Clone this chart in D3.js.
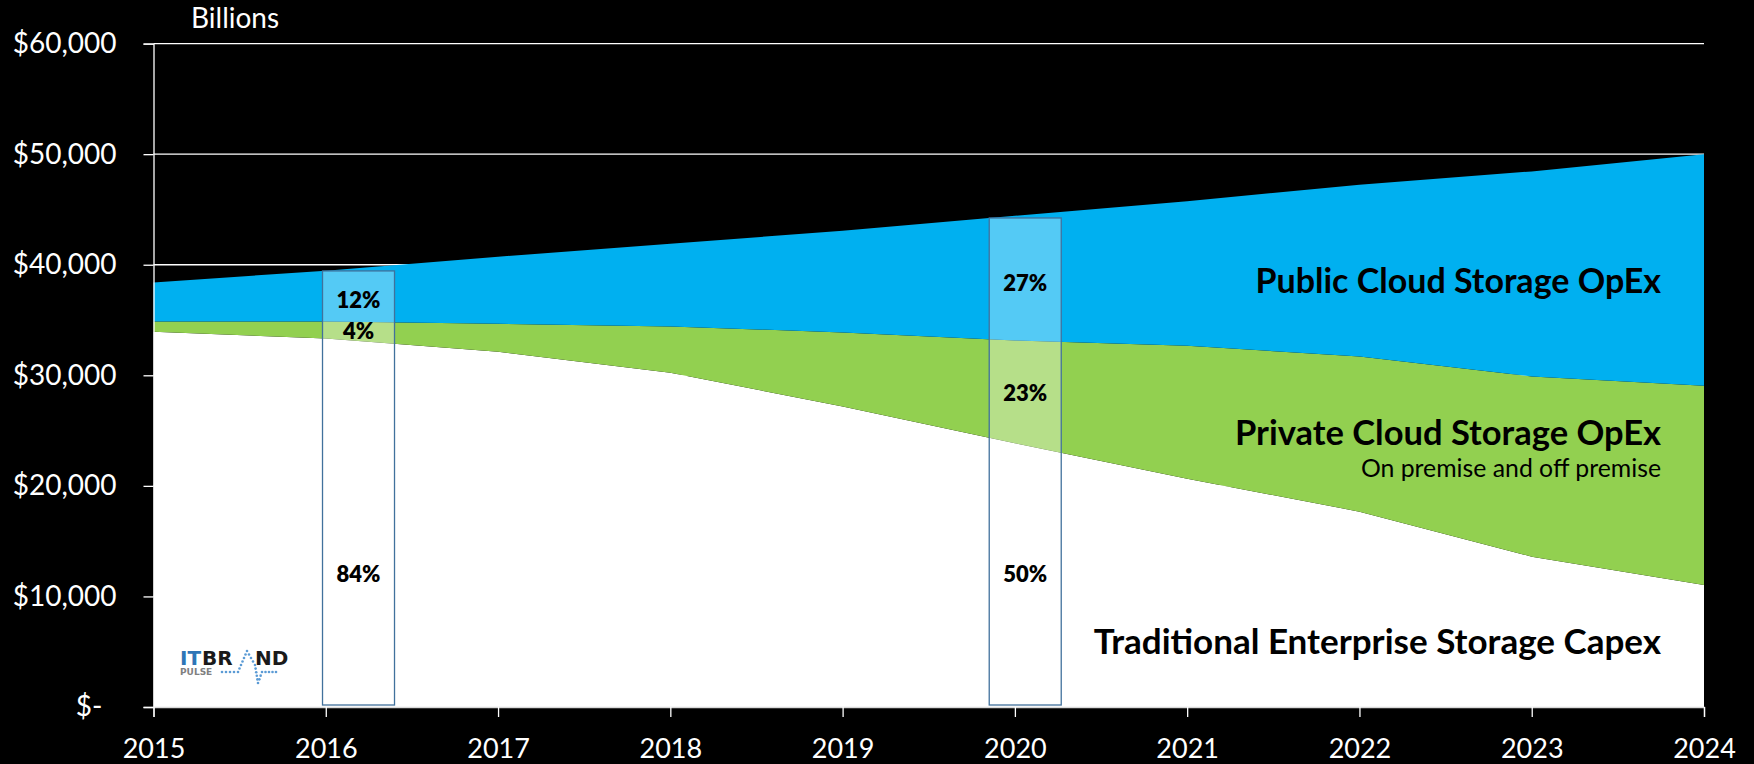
<!DOCTYPE html>
<html>
<head>
<meta charset="utf-8">
<script src="https://cdn.jsdelivr.net/npm/d3@7"></script>
<style>
  html, body { margin: 0; padding: 0; background: #000; }
  svg { display: block; }
</style>
</head>
<body>
<svg id="chart" width="1754" height="764"></svg>
<script>
// Storage spending, billions of dollars, by year
const years = [2015, 2016, 2017, 2018, 2019, 2020, 2021, 2022, 2023, 2024];
const traditionalCapex = [33940, 33330, 32130, 30230, 27180, 23860, 20650, 17670, 13600, 11040];
const privateCloudOpex = [930, 1540, 2530, 4190, 6700, 9290, 12030, 14030, 16290, 18010];
const publicCloudOpex  = [3530, 4590, 6060, 7480, 9200, 11280, 13070, 15540, 18550, 20950];

const seriesKeys   = ["traditional", "private", "public"];
const seriesColors = ["#FFFFFF", "#92D050", "#00B0F0"];

const yTickValues = [0, 10000, 20000, 30000, 40000, 50000, 60000];
const xTickValues = years;

// Share call-outs: year the column sits on, and the share of each layer (bottom to top)
const calloutYears  = [2016.19, 2020.06];
const calloutShares = [["84%", "4%", "12%"], ["50%", "23%", "27%"]];

const svg = d3.select("#chart");
const W = 1754, H = 764;
const margin = { left: 153.5, right: 50, top: 43.6, bottom: 57 };
const font = "Lato, 'Open Sans', sans-serif";

const x = d3.scaleLinear().domain([2015, 2024]).range([margin.left, W - margin.right]);
const y = d3.scaleLinear().domain([0, 60000]).range([H - margin.bottom, margin.top]);

const table = years.map((yr, i) => ({
  year: yr,
  traditional: traditionalCapex[i],
  private: privateCloudOpex[i],
  public: publicCloudOpex[i]
}));
const stacked = d3.stack().keys(seriesKeys)(table);

// background
svg.append("rect").attr("width", W).attr("height", H).attr("fill", "#000");

// horizontal gridlines (behind the areas)
svg.append("g")
  .selectAll("line")
  .data(yTickValues.filter(v => v > 0))
  .join("line")
  .attr("x1", x(2015)).attr("x2", x(2024))
  .attr("y1", d => y(d)).attr("y2", d => y(d))
  .attr("stroke", "#FFFFFF").attr("stroke-width", 1.3);

// stacked areas
const area = d3.area()
  .x(d => x(d.data.year))
  .y0(d => y(d[0]))
  .y1(d => y(d[1]))
  .curve(d3.curveLinear);

svg.append("g")
  .selectAll("path")
  .data(stacked)
  .join("path")
  .attr("d", area)
  .attr("fill", (d, i) => seriesColors[i]);

// linear interpolation of a stack boundary at a fractional year
function boundaryAt(layer, yr, which) {
  const i = Math.min(Math.floor(yr - years[0]), years.length - 2);
  const t = yr - years[i];
  return layer[i][which] * (1 - t) + layer[i + 1][which] * t;
}

// share call-out columns
const halfW = 36;
const callouts = svg.append("g");
calloutYears.forEach((yr, k) => {
  const cx = x(yr);
  const topLayer = stacked[stacked.length - 1];
  const topVal = boundaryAt(topLayer, x.invert(cx - halfW), 1);
  callouts.append("rect")
    .attr("x", cx - halfW)
    .attr("y", y(topVal))
    .attr("width", halfW * 2)
    .attr("height", y(0) - 2 - y(topVal))
    .attr("fill", "#FFFFFF").attr("fill-opacity", 0.33)
    .attr("stroke", "#41719C").attr("stroke-width", 1.3);

  stacked.forEach((layer, li) => {
    let ly;
    if (li === 0) {
      ly = y(12000);
    } else {
      const lo = boundaryAt(layer, yr, 0);
      const hi = boundaryAt(layer, yr, 1);
      ly = (y(lo) + y(hi)) / 2 + (li === stacked.length - 1 ? 5 : 0);
    }
    callouts.append("text")
      .attr("x", cx).attr("y", ly)
      .attr("dy", "0.36em")
      .attr("text-anchor", "middle")
      .attr("font-family", font)
      .attr("font-weight", 800)
      .attr("font-size", 22)
      .attr("fill", "#000")
      .text(calloutShares[k][li]);
  });
});

// y axis
const yAxis = d3.axisLeft(y)
  .tickValues(yTickValues)
  .tickSize(10)
  .tickPadding(27)
  .tickFormat(v => v === 0 ? "$-" : "$" + d3.format(",")(v));
const gy = svg.append("g").attr("transform", `translate(${margin.left},0)`).call(yAxis);
gy.select(".domain").attr("stroke", "#FFFFFF").attr("stroke-width", 1.3);
gy.selectAll(".tick line").attr("stroke", "#FFFFFF").attr("stroke-width", 1.3);
gy.selectAll(".tick text")
  .attr("fill", "#FFFFFF")
  .attr("font-family", font)
  .attr("font-size", 28)
  .attr("dx", d => d === 0 ? -14 : 0);

// x axis
const xAxis = d3.axisBottom(x)
  .tickValues(xTickValues)
  .tickSize(10)
  .tickPadding(22)
  .tickFormat(d3.format("d"));
const gx = svg.append("g").attr("transform", `translate(0,${y(0)})`).call(xAxis);
gx.select(".domain").attr("stroke", "#D9D9D9").attr("stroke-width", 1.3);
gx.selectAll(".tick line").attr("stroke", "#FFFFFF").attr("stroke-width", 1.3);
gx.selectAll(".tick text")
  .attr("fill", "#FFFFFF")
  .attr("font-family", font)
  .attr("font-size", 27);

// unit label
svg.append("text")
  .attr("x", 191).attr("y", 28)
  .attr("fill", "#FFFFFF")
  .attr("font-family", font)
  .attr("font-size", 28)
  .text("Billions");

// series labels
const labelX = 1661;
const seriesLabels = [
  { text: "Public Cloud Storage OpEx", y: 293, size: 34, weight: 700 },
  { text: "Private Cloud Storage OpEx", y: 445, size: 34.5, weight: 700 },
  { text: "On premise and off premise", y: 476.5, size: 24.8, weight: 400 },
  { text: "Traditional Enterprise Storage Capex", y: 654, size: 35, weight: 700 }
];
svg.append("g")
  .selectAll("text")
  .data(seriesLabels)
  .join("text")
  .attr("x", labelX)
  .attr("y", d => d.y)
  .attr("text-anchor", "end")
  .attr("font-family", font)
  .attr("font-weight", d => d.weight)
  .attr("font-size", d => d.size)
  .attr("fill", "#000")
  .text(d => d.text);

// ITBRAND PULSE logo
const logo = svg.append("g").attr("transform", "translate(180,665)");
const logoFont = "'DejaVu Sans', Verdana, sans-serif";
const word = logo.append("text").attr("x", 0).attr("y", 0)
  .attr("font-family", logoFont).attr("font-weight", 700).attr("font-size", 20);
word.append("tspan").attr("fill", "#2E75B6").text("IT");
word.append("tspan").attr("fill", "#1A1A1A").attr("dx", 1).text("BR");
logo.append("text").attr("x", 75).attr("y", 0)
  .attr("font-family", logoFont).attr("font-weight", 700).attr("font-size", 20)
  .attr("fill", "#1A1A1A").text("ND");
logo.append("text").attr("x", 0).attr("y", 10)
  .attr("font-family", logoFont).attr("font-weight", 700).attr("font-size", 9)
  .attr("fill", "#808080").text("PULSE");
const dotPath = [[42, 7], [58, 7], [67, -14], [75, 0], [78, 18], [82, 7], [96, 7]];
const dots = [];
for (let s = 0; s < dotPath.length - 1; s++) {
  const [x0, y0] = dotPath[s], [x1, y1] = dotPath[s + 1];
  const len = Math.hypot(x1 - x0, y1 - y0);
  const n = Math.max(1, Math.round(len / 3.6));
  for (let j = 0; j < n; j++) dots.push([x0 + (x1 - x0) * j / n, y0 + (y1 - y0) * j / n]);
}
dots.push(dotPath[dotPath.length - 1]);
logo.selectAll("circle").data(dots).join("circle")
  .attr("cx", d => d[0]).attr("cy", d => d[1]).attr("r", 1.3)
  .attr("fill", "#5B9BD5");
</script>
</body>
</html>
